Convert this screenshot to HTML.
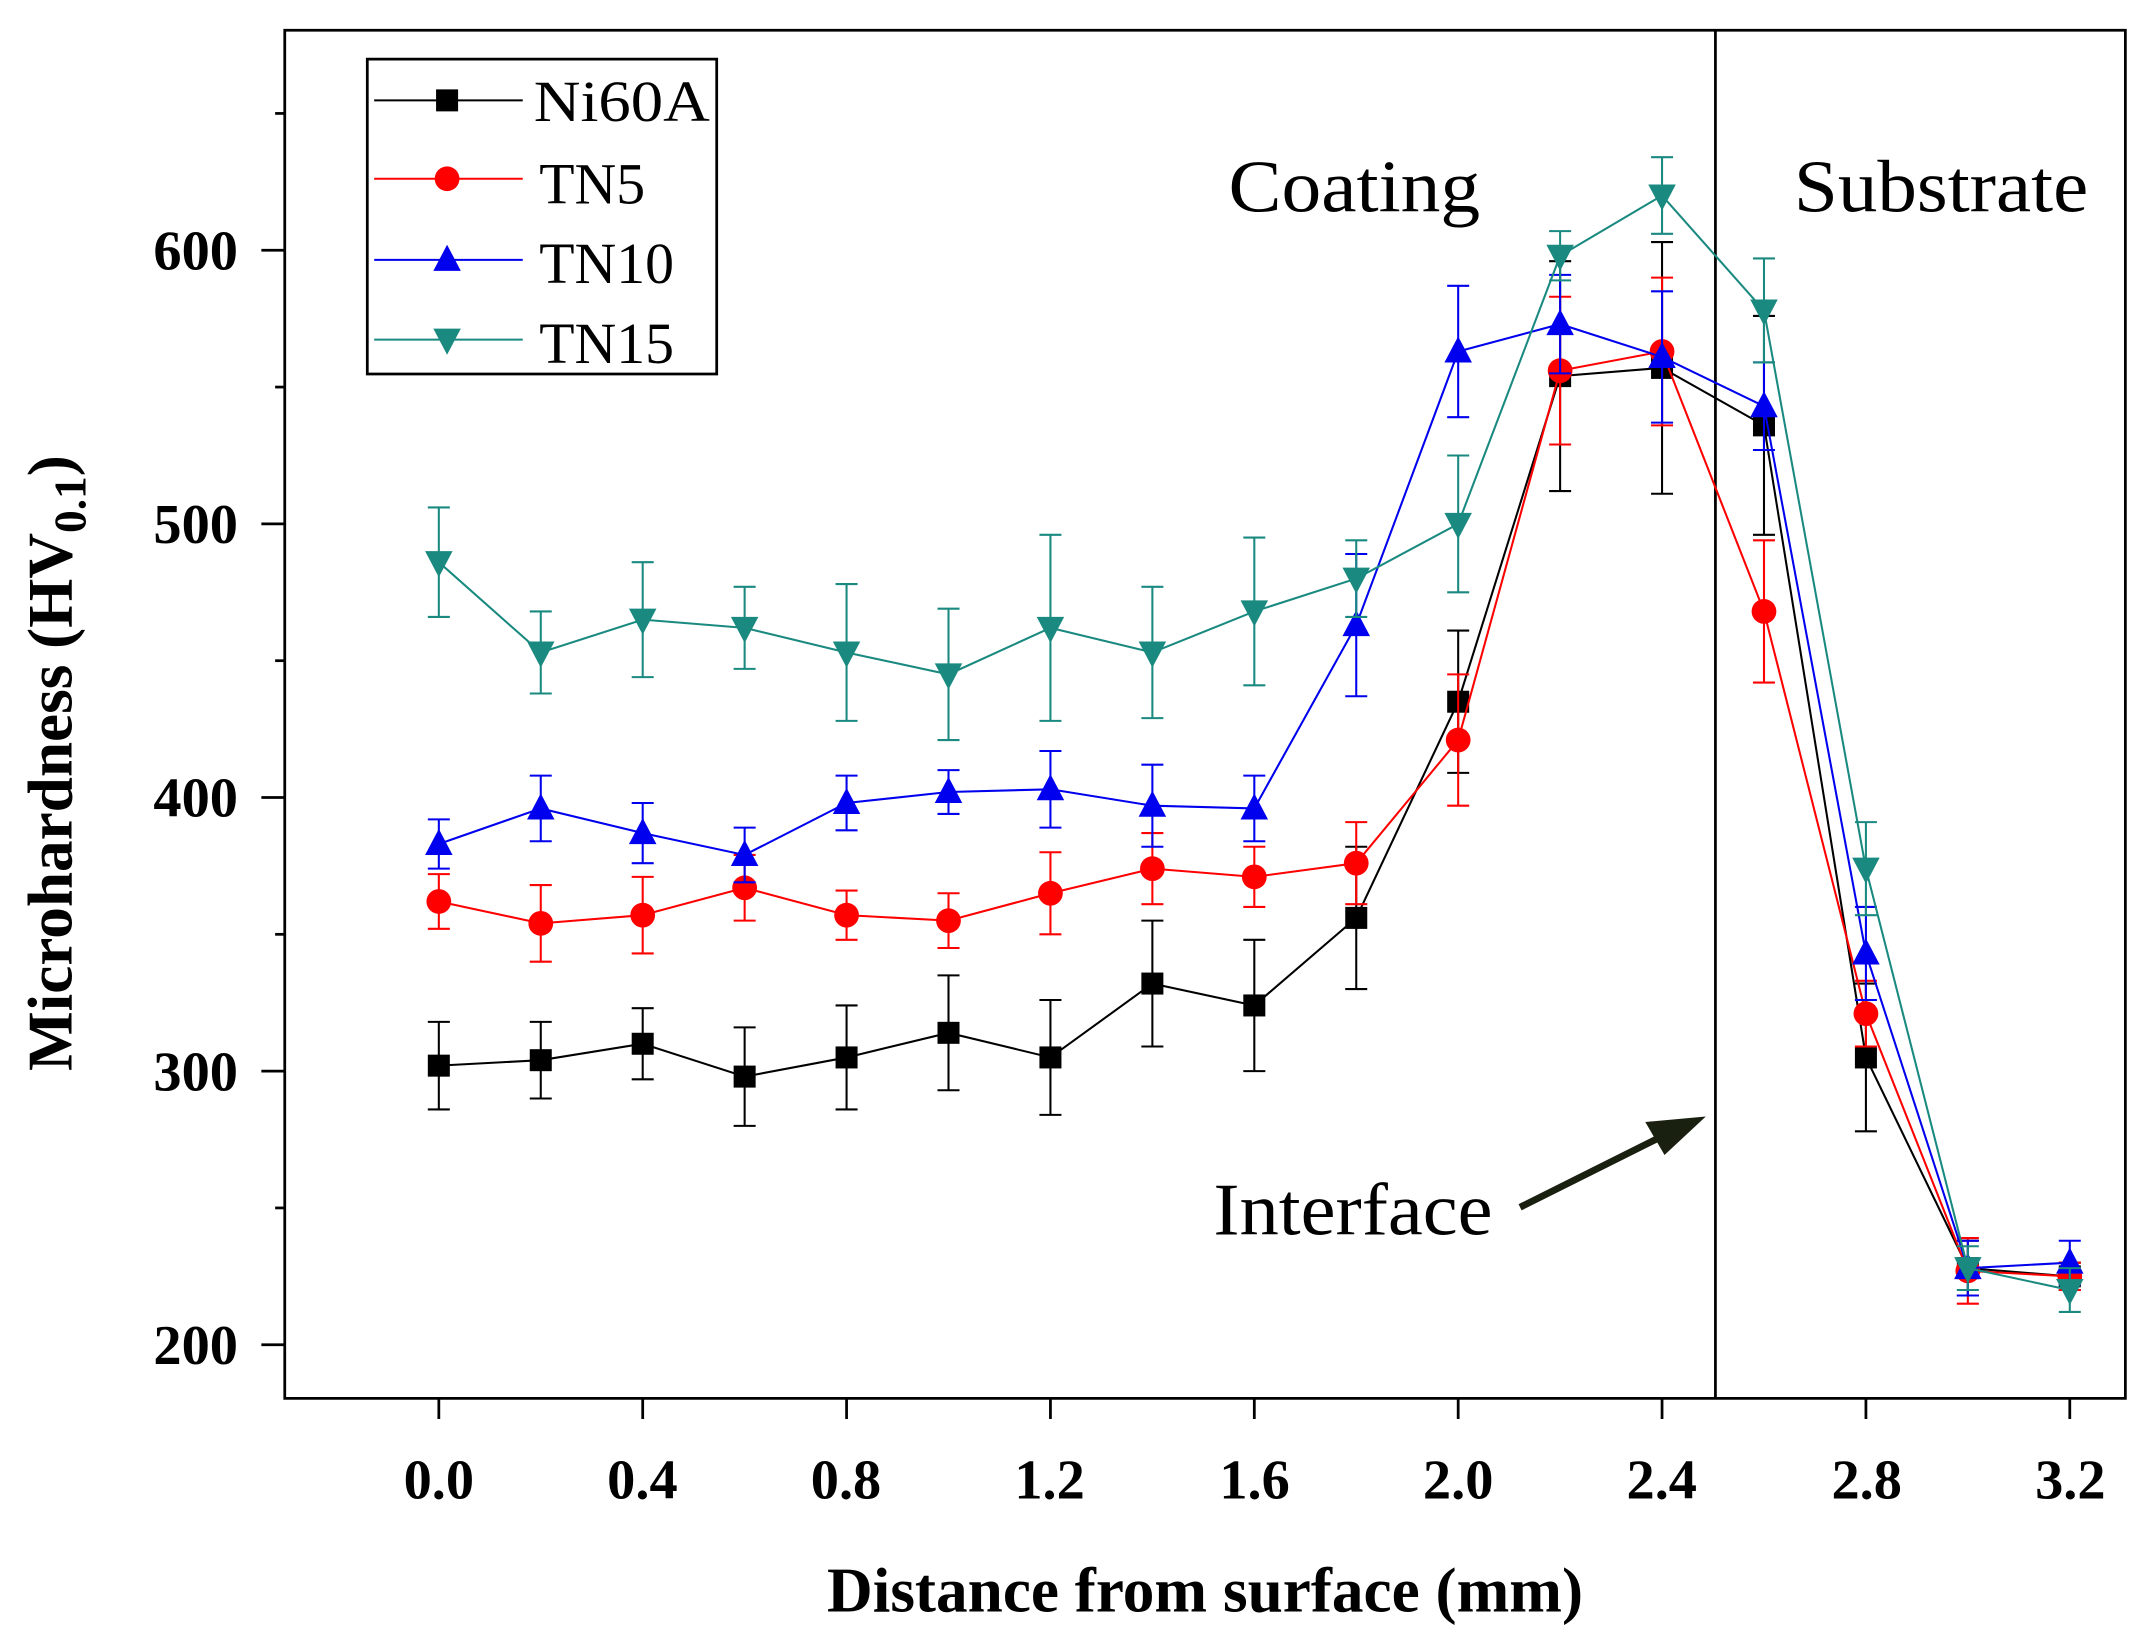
<!DOCTYPE html>
<html><head><meta charset="utf-8"><style>
html,body{margin:0;padding:0;background:#fff;}
svg{display:block;}
text{font-family:"Liberation Serif",serif;}
</style></head><body>
<svg id="s" width="2146" height="1639" viewBox="0 0 1560 1192" preserveAspectRatio="none" xmlns="http://www.w3.org/2000/svg">
<rect x="0" y="0" width="1560" height="1192" fill="#fff"/>
<rect x="207" y="22" width="1338" height="995" fill="none" stroke="#000" stroke-width="2"/>
<line x1="1247" y1="22" x2="1247" y2="1017" stroke="#000" stroke-width="2"/>
<g id="ticks" stroke="#000" stroke-width="2"></g>
<g font-weight="bold" font-size="41" text-anchor="end">
<text x="173" y="196">600</text>
<text x="173" y="395">500</text>
<text x="173" y="594">400</text>
<text x="173" y="793">300</text>
<text x="173" y="992">200</text>
</g>
<g font-weight="bold" font-size="41" text-anchor="middle">
<text x="319" y="1090">0.0</text>
<text x="467" y="1090">0.4</text>
<text x="615" y="1090">0.8</text>
<text x="763" y="1090">1.2</text>
<text x="912" y="1090">1.6</text>
<text x="1060" y="1090">2.0</text>
<text x="1208" y="1090">2.4</text>
<text x="1357" y="1090">2.8</text>
<text x="1505" y="1090">3.2</text>
</g>
<text x="876" y="1172" font-weight="bold" font-size="46" text-anchor="middle">Distance from surface (mm)</text>
<text transform="translate(52,555) rotate(-90)" font-weight="bold" font-size="46" text-anchor="middle">Microhardness (HV<tspan font-size="33" dy="10">0.1</tspan><tspan dy="-10">)</tspan></text>
<text x="893" y="154" font-size="54" textLength="183" lengthAdjust="spacingAndGlyphs">Coating</text>
<text x="1304" y="154" font-size="54" textLength="214" lengthAdjust="spacingAndGlyphs">Substrate</text>
<text x="882" y="898" font-size="54" textLength="203" lengthAdjust="spacingAndGlyphs">Interface</text>
<line x1="1105" y1="878" x2="1205" y2="828" stroke="#1a2010" stroke-width="5"/>
<polygon points="1240,812 1196,816 1210,840" fill="#1a2010"/>
<g id="data"></g>
<rect x="267" y="43" width="254" height="229" fill="#fff" stroke="#000" stroke-width="2"/>
<g font-size="42">
<text x="388" y="88" textLength="128" lengthAdjust="spacingAndGlyphs">Ni60A</text>
<text x="392" y="148">TN5</text>
<text x="392" y="206">TN10</text>
<text x="392" y="264">TN15</text>
</g>
<g id="leg"></g>
</svg>
<script>
var NS="http://www.w3.org/2000/svg";
function el(p,t,a){var e=document.createElementNS(NS,t);for(var k in a)e.setAttribute(k,a[k]);p.appendChild(e);return e;}
var tk=document.getElementById("ticks");
for(var v=200;v<=650;v+=50){var y=978-(v-200)*1.99;el(tk,"line",{x1:207-(v%100==0?17:7),y1:y,x2:207,y2:y});}
for(var i=0;i<=16;i+=2){var x=319+74.1*i;el(tk,"line",{x1:x,y1:1017,x2:x,y2:1032});}
var S=[
{c:"#000",m:"sq",v:[302,304,310,298,305,314,305,332,324,356,435,554,557,536,305,228,225],e:[16,14,13,18,19,21,21,23,24,26,26,42,46,40,27,10,5]},
{c:"#f00",m:"ci",v:[362,354,357,367,357,355,365,374,371,376,421,556,563,468,321,227,225],e:[10,14,14,12,9,10,15,13,11,15,24,27,27,26,12,12,5]},
{c:"#0000ee",m:"up",v:[383,396,387,379,398,402,403,397,396,463,563,573,561,543,343,228,230],e:[9,12,11,10,10,8,14,15,12,26,24,18,24,16,17,10,8]},
{c:"#1a8a80",m:"dn",v:[486,453,465,462,453,445,462,453,468,480,500,598,620,578,374,228,220],e:[20,15,21,15,25,24,34,24,27,14,25,9,14,19,17,8,8]}];
function mk(g,t,x,y,c){
 if(t=="sq")el(g,"rect",{x:x-8,y:y-8,width:16,height:16,fill:c});
 else if(t=="ci")el(g,"circle",{cx:x,cy:y,r:9,fill:c});
 else if(t=="up")el(g,"polygon",{points:(x-10)+","+(y+8)+" "+(x+10)+","+(y+8)+" "+x+","+(y-11),fill:c});
 else el(g,"polygon",{points:(x-10)+","+(y-8)+" "+(x+10)+","+(y-8)+" "+x+","+(y+11),fill:c});
}
var d=document.getElementById("data");
S.forEach(function(s){
 var pts=s.v.map(function(v,i){return [319+74.1*i,978-(v-200)*1.99];});
 el(d,"polyline",{points:pts.map(function(p){return p.join(",")}).join(" "),fill:"none",stroke:s.c,"stroke-width":1.5});
 pts.forEach(function(p,i){var h=s.e[i]*1.99;
  el(d,"line",{x1:p[0],y1:p[1]-h,x2:p[0],y2:p[1]+h,stroke:s.c,"stroke-width":1.5});
  el(d,"line",{x1:p[0]-8,y1:p[1]-h,x2:p[0]+8,y2:p[1]-h,stroke:s.c,"stroke-width":1.5});
  el(d,"line",{x1:p[0]-8,y1:p[1]+h,x2:p[0]+8,y2:p[1]+h,stroke:s.c,"stroke-width":1.5});
 });
 pts.forEach(function(p){mk(d,s.m,p[0],p[1],s.c);});
});
var lg=document.getElementById("leg");var ly=[73,130,189,247];
S.forEach(function(s,i){el(lg,"line",{x1:272,y1:ly[i],x2:380,y2:ly[i],stroke:s.c,"stroke-width":1.5});mk(lg,s.m,325,ly[i],s.c);});
</script>
</body></html>
